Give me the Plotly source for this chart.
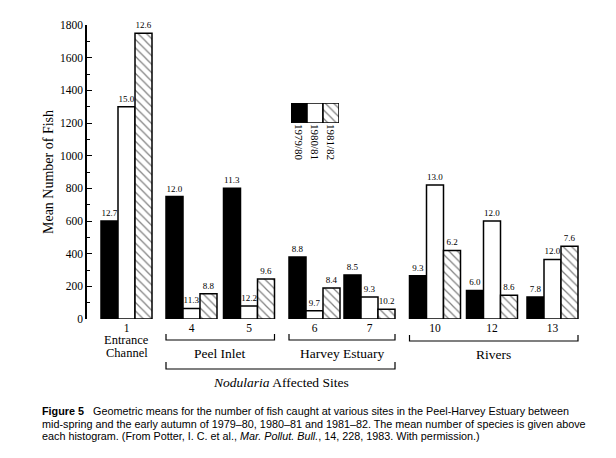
import plotly.graph_objects as go

# data
sites = ["1", "4", "5", "6", "7", "10", "12", "13"]
seasons = ["1979/80", "1980/81", "1981/82"]
fish_7980 = [600, 750, 800, 380, 270, 265, 175, 135]
fish_8081 = [1300, 65, 80, 50, 135, 820, 600, 365]
fish_8182 = [1750, 155, 245, 190, 60, 420, 145, 445]
species_7980 = [12.7, 12.0, 11.3, 8.8, 8.5, 9.3, 6.0, 7.8]
species_8081 = [15.0, 11.3, 12.2, 9.7, 9.3, 13.0, 12.0, 12.0]
species_8182 = [12.6, 8.8, 9.6, 8.4, 10.2, 6.2, 8.6, 7.6]

# layout: site centres along the x axis (sites are grouped, so gaps differ)
site_pos = [39.5, 104.5, 162, 227.5, 282.5, 348, 405, 465.5]
bw = 17
serif = "Liberation Serif"

def py(px):
    # pixel row -> paper y (plot area spans rows 25..319)
    return (319 - px) / 294

def pxx(px):
    # pixel column -> paper x (plot area spans columns 87..590)
    return (px - 87) / 503

styles = [
    dict(color="black"),
    dict(color="white"),
    dict(color="white", pattern=dict(shape="\\", size=6, solidity=0.2,
                                     fgcolor="black", bgcolor="white")),
]

fig = go.Figure()
for i, (vals, spp) in enumerate(zip([fish_7980, fish_8081, fish_8182],
                                    [species_7980, species_8081, species_8182])):
    fig.add_trace(go.Bar(
        x=site_pos, y=vals, width=bw, offset=-1.5 * bw + i * bw,
        marker=dict(**styles[i], line=dict(color="black", width=1.5)),
        text=[f"{s:.1f}" for s in spp], textposition="outside",
        textfont=dict(family=serif, size=9, color="black"),
        constraintext="none", cliponaxis=False, name=seasons[i],
    ))

# legend drawn as a tiny bar chart on its own axes
for i, s in enumerate(seasons):
    fig.add_trace(go.Bar(
        x=[s], y=[1], width=1, xaxis="x2", yaxis="y2",
        marker=dict(**styles[i], line=dict(color="black", width=1.5)),
    ))

# page body has an 8px margin, so margins are 8px smaller than the target
fig.update_layout(
    width=616, height=458,
    margin=dict(l=79, r=34, t=17, b=147),
    paper_bgcolor="white", plot_bgcolor="white",
    barmode="overlay", showlegend=False,
    font=dict(family=serif, color="black"),
    xaxis=dict(range=[0, 503], showline=False, showgrid=False, zeroline=False,
               tickvals=site_pos, ticktext=sites, ticks="", automargin=False,
               tickfont=dict(size=11.5)),
    yaxis=dict(range=[0, 1800], dtick=200, showline=True, linecolor="black",
               linewidth=1.5, ticks="inside", ticklen=5, tickwidth=1.2,
               tickcolor="black", showgrid=False, zeroline=False, automargin=False,
               tickfont=dict(size=11.5),
               minor=dict(dtick=100, ticks="inside", ticklen=3, tickcolor="black"),
               title=dict(text="Mean Number of Fish", font=dict(size=14), standoff=3)),
    xaxis2=dict(domain=[0.4056, 0.501], anchor="y2", range=[-0.5, 2.5],
                showline=False, showgrid=False, zeroline=False, ticks="",
                tickangle=90, tickfont=dict(size=11)),
    yaxis2=dict(domain=[0.667, 0.735], anchor="x2", range=[0, 1], visible=False),
)

# group brackets
def bracket(a, b, y_line, y_end):
    x0 = site_pos[a] - 1.5 * bw
    x1 = site_pos[b] + 1.5 * bw
    fig.add_shape(type="path", xref="x", yref="paper",
                  path=f"M {x0},{py(y_end)} L {x0},{py(y_line)} L {x1},{py(y_line)} L {x1},{py(y_end)}",
                  line=dict(color="black", width=1.2))

bracket(1, 2, 340, 334)
bracket(3, 4, 340, 334)
bracket(5, 7, 341, 335)
bracket(1, 4, 369, 362)

groups = [
    ("Entrance", site_pos[0], 340, 12.5),
    ("Channel", site_pos[0], 353, 12.5),
    ("Peel Inlet", (site_pos[1] + site_pos[2]) / 2, 353, 13.5),
    ("Harvey Estuary", (site_pos[3] + site_pos[4]) / 2, 353, 13.5),
    ("Rivers", (site_pos[5] + site_pos[7]) / 2, 354, 13.5),
    ("<i>Nodularia</i> Affected Sites", (site_pos[1] + site_pos[4]) / 2, 382, 13.5),
]
for txt, x, y, fs in groups:
    fig.add_annotation(text=txt, x=x, y=py(y), xref="x", yref="paper",
                       yanchor="middle", showarrow=False, font=dict(size=fs))

caption = [
    "<b>Figure 5</b>   Geometric means for the number of fish caught at various sites in the Peel-Harvey Estuary between",
    "mid-spring and the early autumn of 1979–80, 1980–81 and 1981–82. The mean number of species is given above",
    "each histogram. (From Potter, I. C. et al., <i>Mar. Pollut. Bull.</i>, 14, 228, 1983. With permission.)",
]
for k, line in enumerate(caption):
    fig.add_annotation(text=line, x=pxx(40), y=py(411 + 12.7 * k), xref="paper", yref="paper",
                       xanchor="left", yanchor="middle", align="left", showarrow=False,
                       font=dict(family="Liberation Sans", size=10.8))

fig.write_html("out.html")
